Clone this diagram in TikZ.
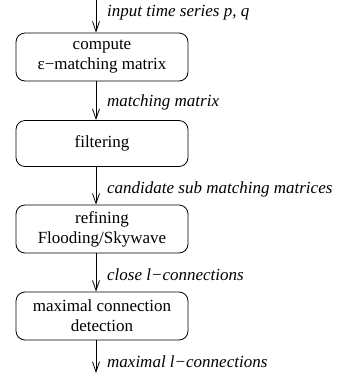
\documentclass[tikz,border=0pt]{standalone}
\usepackage{fontspec}
\setmainfont{Liberation Serif}
\usetikzlibrary{arrows.meta}
\begin{document}
\begin{tikzpicture}[x=1pt,y=-1pt,
  stepbox/.style={draw,line width=0.8pt,rounded corners=9pt,minimum width=172pt,align=center,inner sep=0pt,font=\fontsize{17}{20}\selectfont},
  flow/.style={draw,line width=0.8pt,-{Straight Barb[length=10pt,width=7pt,line width=0.8pt]}},
  lbl/.style={anchor=west,font=\fontsize{17}{20}\selectfont\itshape,inner sep=0pt}]
\useasboundingbox (0,0) rectangle (362,376);
\node[stepbox,minimum height=48pt] (b1) at (102,57) {compute\\ε−matching matrix};
\node[stepbox,minimum height=46pt] (b2) at (102,143.5) {filtering};
\node[stepbox,minimum height=48pt] (b3) at (102,229) {refining\\Flooding/Skywave};
\node[stepbox,minimum height=48pt] (b4) at (102,316) {maximal connection\\detection};
\coordinate (in) at (96,0);
\coordinate (out) at (96,373);
\draw[flow] (in) -- (b1.north -| in);
\draw[flow] (b1.south -| in) -- (b2.north -| in);
\draw[flow] (b2.south -| in) -- (b3.north -| in);
\draw[flow] (b3.south -| in) -- (b4.north -| in);
\draw[flow] (b4.south -| in) -- (out);
\node[lbl] at (107,13) {input time series p, q};
\node[lbl] at (107,102) {matching matrix};
\node[lbl] at (107,189) {candidate sub matching matrices};
\node[lbl] at (107,275) {close l−connections};
\node[lbl] at (107,362) {maximal l−connections};
\end{tikzpicture}
\end{document}
